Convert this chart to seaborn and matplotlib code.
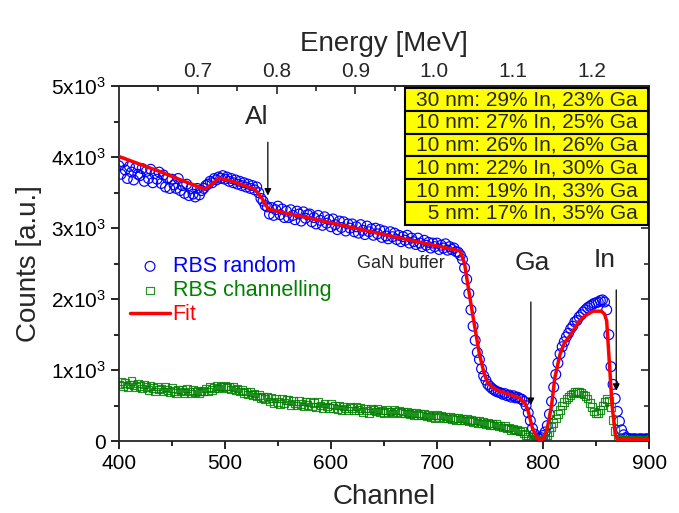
import matplotlib
matplotlib.use("Agg")
import matplotlib.pyplot as plt
from matplotlib.patches import Rectangle
from matplotlib.ticker import FixedLocator, MultipleLocator, FuncFormatter, FormatStrFormatter
import numpy as np
import pandas as pd
import seaborn as sns

# ----------------------------------------------------------------
# Data
# ----------------------------------------------------------------
channel = np.arange(400, 901, 2)

random_counts = [
    3880, 3760, 3930, 3820, 3700, 3870, 3790, 3680, 3850, 3760,
    3740, 3840, 3660, 3800, 3700, 3830, 3640, 3770, 3690, 3790,
    3630, 3750, 3580, 3700, 3560, 3690, 3610, 3560, 3700, 3530,
    3600, 3490, 3620, 3460, 3560, 3480, 3440, 3560, 3470, 3530,
    3560, 3600, 3620, 3660, 3640, 3700, 3680, 3720, 3700, 3740,
    3690, 3720, 3660, 3700, 3640, 3680, 3620, 3660, 3600, 3640,
    3580, 3620, 3560, 3600, 3540, 3580, 3500, 3420, 3380, 3320,
    3300, 3200, 3290, 3180, 3260, 3310, 3190, 3270, 3150, 3240,
    3150, 3260, 3180, 3120, 3240, 3200, 3100, 3230, 3140, 3190,
    3200, 3090, 3150, 3060, 3180, 3110, 3040, 3160, 3070, 3120,
    3020, 3130, 3050, 2980, 3100, 3010, 3090, 2960, 3060, 3000,
    3060, 2950, 3020, 2930, 3050, 2970, 2910, 3030, 2950, 2990,
    2900, 3000, 2920, 2980, 2870, 2960, 2890, 2850, 2950, 2880,
    2930, 2840, 2900, 2810, 2880, 2830, 2900, 2790, 2860, 2810,
    2770, 2860, 2790, 2740, 2830, 2760, 2800, 2720, 2790, 2740,
    2790, 2700, 2760, 2720, 2780, 2690, 2740, 2700, 2720, 2670,
    2660, 2620, 2560, 2440, 2280, 2080, 1850, 1620, 1420, 1250,
    1150, 1020, 920, 860, 800, 770, 740, 720, 700, 690,
    680, 660, 670, 640, 650, 620, 640, 610, 620, 600,
    590, 560, 500, 400, 290, 180, 100, 60, 40, 50,
    80, 130, 220, 380, 560, 760, 940, 1100, 1230, 1330,
    1400, 1470, 1520, 1580, 1620, 1680, 1700, 1750, 1780, 1820,
    1850, 1880, 1900, 1920, 1940, 1950, 1960, 1980, 1990, 1960,
    1850, 1500, 1050, 800, 600, 420, 280, 160, 90, 50,
    40, 35, 30, 35, 30, 30, 35, 30, 30, 35,
    30,
]

channelling_counts = [
    800, 840, 780, 820, 760, 800, 850, 790, 760, 810,
    780, 740, 800, 760, 720, 780, 750, 700, 770, 730,
    740, 700, 760, 720, 690, 750, 710, 680, 730, 700,
    720, 680, 740, 700, 670, 720, 690, 710, 680, 700,
    710, 740, 700, 760, 720, 750, 780, 740, 770, 760,
    780, 750, 770, 730, 760, 720, 740, 700, 720, 680,
    700, 660, 690, 650, 670, 630, 650, 610, 620, 590,
    630, 560, 610, 540, 600, 550, 520, 600, 540, 580,
    580, 510, 570, 530, 500, 570, 520, 490, 560, 510,
    550, 490, 540, 480, 550, 500, 470, 530, 490, 470,
    520, 470, 500, 450, 500, 440, 490, 460, 430, 490,
    470, 430, 490, 440, 470, 410, 460, 430, 400, 460,
    440, 420, 450, 410, 430, 400, 440, 410, 420, 390,
    440, 410, 430, 400, 420, 390, 410, 380, 400, 370,
    400, 370, 390, 360, 380, 350, 370, 340, 360, 330,
    370, 340, 360, 330, 350, 320, 340, 310, 330, 300,
    330, 300, 320, 290, 310, 280, 300, 270, 290, 260,
    280, 250, 270, 240, 260, 230, 250, 220, 240, 210,
    220, 190, 210, 180, 190, 160, 175, 150, 160, 135,
    140, 110, 90, 60, 40, 30, 15, 10, 5, 10,
    20, 40, 80, 130, 200, 260, 320, 380, 440, 500,
    550, 590, 620, 650, 670, 690, 700, 690, 680, 660,
    640, 600, 540, 480, 420, 390, 400, 440, 500, 550,
    590, 570, 480, 300, 140, 60, 30, 20, 15, 15,
    15, 15, 10, 15, 15, 10, 15, 15, 10, 15,
    15,
]

fit_channel = [400, 420, 440, 460, 481, 488, 494, 505, 528, 535, 541, 560,
               600, 650, 700, 722, 726, 729, 734, 740, 744, 747, 752, 759,
               770, 778, 783, 786, 790, 794, 797, 800, 804, 808, 811, 816,
               820, 825, 834, 840, 847, 855, 858, 860, 862, 865, 868, 870, 900]
fit_counts = [4010, 3900, 3790, 3670, 3550, 3620, 3705, 3670, 3550, 3420, 3268, 3205,
              3075, 2910, 2750, 2676, 2500, 2211, 1750, 1225, 980, 845, 760, 704,
              650, 606, 535, 420, 183, 60, 10, 30, 183, 500, 887, 1225,
              1380, 1479, 1690, 1770, 1831, 1831, 1790, 1690, 1225, 521, 100, 25, 25]

layers = [
    "30 nm: 29% In, 23% Ga",
    "10 nm: 27% In, 25% Ga",
    "10 nm: 26% In, 26% Ga",
    "10 nm: 22% In, 30% Ga",
    "10 nm: 19% In, 33% Ga",
    " 5 nm: 17% In, 35% Ga",
]

energy_ticks = [0.7, 0.8, 0.9, 1.0, 1.1, 1.2]
energy_minor = [0.65, 0.75, 0.85, 0.95, 1.05, 1.15, 1.25]

df_random = pd.DataFrame({"channel": channel, "counts": random_counts})
df_chan = pd.DataFrame({"channel": channel, "counts": channelling_counts})
df_fit = pd.DataFrame({"channel": fit_channel, "counts": fit_counts})

# ----------------------------------------------------------------
# Style
# ----------------------------------------------------------------
sns.set_theme(style="ticks")
plt.rcParams["font.family"] = ["Liberation Sans", "DejaVu Sans"]
plt.rcParams.update({
    "axes.linewidth": 1.3,
    "mathtext.fontset": "custom",
    "mathtext.rm": "Liberation Sans",
    "mathtext.it": "Liberation Sans:italic",
})

BLUE, GREEN, RED = "#0000ff", "#008000", "#ff0000"

fig = plt.figure(figsize=(6.79, 5.13), dpi=100)
ax = fig.add_axes([0.175, 0.140, 0.781, 0.692])

sns.scatterplot(data=df_random, x="channel", y="counts", marker="o", s=50,
                facecolor="none", edgecolor=BLUE, linewidth=0.85,
                label="RBS random", ax=ax, zorder=2)
sns.scatterplot(data=df_chan, x="channel", y="counts", marker="s", s=30,
                facecolor="none", edgecolor=GREEN, linewidth=0.85, alpha=0.85,
                label="RBS channelling", ax=ax, zorder=2)
sns.lineplot(data=df_fit, x="channel", y="counts", color=RED, linewidth=2.5,
             label="Fit", ax=ax, zorder=3)

ax.set_xlim(400, 900)
ax.set_ylim(0, 5000)
ax.xaxis.set_major_locator(MultipleLocator(100))
ax.xaxis.set_minor_locator(MultipleLocator(50))
ax.yaxis.set_major_locator(MultipleLocator(1000))
ax.yaxis.set_minor_locator(MultipleLocator(500))
ax.yaxis.set_major_formatter(FuncFormatter(
    lambda v, p: "0" if v == 0 else f"{int(round(v / 1000))}x10$^{{\\mathrm{{3}}}}$"))
ax.tick_params(which="both", direction="out", top=False, right=False,
               width=1.2, labelsize=15, colors="black")
ax.tick_params(which="major", length=6)
ax.tick_params(which="minor", length=3.5)
ax.set_xlabel("Channel", fontsize=20, labelpad=8)
ax.set_ylabel("Counts [a.u.]", fontsize=20, labelpad=6)


# energy scale on top
def ch_to_e(ch):
    return 0.7 + (np.asarray(ch) - 474.5) / 743.0


def e_to_ch(e):
    return 474.5 + (np.asarray(e) - 0.7) * 743.0


top = ax.secondary_xaxis("top", functions=(ch_to_e, e_to_ch))
top.xaxis.set_major_locator(FixedLocator(energy_ticks))
top.xaxis.set_minor_locator(FixedLocator(energy_minor))
top.xaxis.set_major_formatter(FormatStrFormatter("%.1f"))
top.tick_params(which="both", direction="in", width=1.2, labelsize=15)
top.tick_params(which="major", length=6)
top.tick_params(which="minor", length=3.5)
top.set_xlabel("Energy [MeV]", fontsize=20, labelpad=8)

right = ax.secondary_yaxis("right")
right.yaxis.set_major_locator(MultipleLocator(1000))
right.yaxis.set_minor_locator(MultipleLocator(500))
right.tick_params(which="both", direction="in", width=1.2, labelright=False)
right.tick_params(which="major", length=6)
right.tick_params(which="minor", length=3.5)

# legend
leg = ax.legend(loc="upper left", bbox_to_anchor=(0.0, 0.552), frameon=False,
                fontsize=15.5, handlelength=1.9, labelspacing=0.15,
                handletextpad=0.1, borderaxespad=0.1)
for txt, col in zip(leg.get_texts(), [BLUE, GREEN, RED]):
    txt.set_color(col)

# element arrows
arrow = dict(arrowstyle="-|>", color="black", lw=0.9, mutation_scale=10)
ax.annotate("", xy=(540.5, 3420), xytext=(540.5, 4250), arrowprops=arrow)
ax.annotate("", xy=(788.5, 470), xytext=(788.5, 2000), arrowprops=arrow)
ax.annotate("", xy=(869, 670), xytext=(869, 2170), arrowprops=arrow)
ax.text(530, 4560, "Al", fontsize=19, ha="center", va="center")
ax.text(790, 2510, "Ga", fontsize=19, ha="center", va="center")
ax.text(858, 2550, "In", fontsize=19, ha="center", va="center")
ax.text(666, 2500, "GaN buffer", fontsize=13, ha="center", va="center")

# layer table
row_h = 0.064
for i, label in enumerate(layers):
    y0 = 0.994 - (i + 1) * row_h
    ax.add_patch(Rectangle((0.54, y0), 0.458, row_h, transform=ax.transAxes,
                           facecolor="#ffff00", edgecolor="black", lw=1.5,
                           zorder=5, clip_on=False))
    ax.text(0.979, y0 + row_h / 2, label, transform=ax.transAxes,
            fontsize=15, ha="right", va="center", zorder=6)

fig.savefig("out.png", dpi=100)
